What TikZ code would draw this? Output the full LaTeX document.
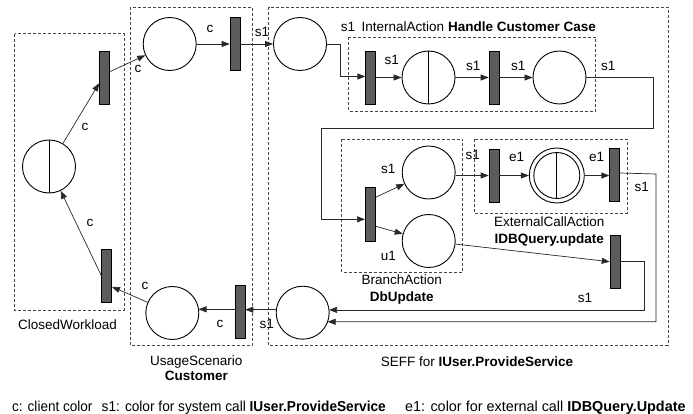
\documentclass[tikz,border=0pt]{standalone}
\usepackage{fontspec}
\setmainfont{Liberation Sans}
\usetikzlibrary{arrows.meta,calc}
\definecolor{trfill}{RGB}{92,92,92}
\definecolor{boxline}{RGB}{70,70,70}
\definecolor{wire}{RGB}{40,40,40}

\begin{document}
\begin{tikzpicture}[x=1pt,y=-1pt,
  every node/.style={font=\fontsize{13.5}{15}\selectfont},
  place/.style={circle,draw,line width=0.9pt,minimum size=53pt,inner sep=0pt},
  trans/.style={rectangle,draw,line width=0.6pt,fill=trfill,minimum width=10pt,minimum height=53pt,inner sep=0pt},
  region/.style={draw=boxline,dash pattern=on 3pt off 2pt,line width=0.7pt},
  arc/.style={draw=wire,-{Triangle[length=8pt,width=6pt]},line width=0.7pt},
  lbl/.style={anchor=base,inner sep=0pt},
  lblw/.style={anchor=base west,inner sep=0pt},
  legend/.style={anchor=base west,inner sep=0pt,font=\fontsize{14.4}{16}\selectfont},
]
\useasboundingbox (0,0) rectangle (693,414);

% regions
\draw[region] (14.7,33.7) rectangle (124,310);
\draw[region] (130,7.3) rectangle (252,345.7);
\draw[region] (268.7,7.3) rectangle (668,345.7);
\draw[region] (348.3,37.3) rectangle (595.7,111);
\draw[region] (341.7,139.3) rectangle (462.7,272.3);
\draw[region] (474.3,139.3) rectangle (627.3,213.3);

% closed workload
\node[place] (fork) at (49,166.5) {};
\draw[line width=0.9pt] (fork.north) -- (fork.south);
\node[trans] (ctop) at (104.5,77.7) {};
\node[trans] (cbot) at (106.7,275.8) {};

% usage scenario
\node[place] (up1) at (169.7,44) {};
\node[trans] (ut1) at (235,44) {};
\node[place] (ubot) at (172.3,313) {};
\node[trans] (ut2) at (240,312) {};

% SEFF
\node[place] (sp0) at (300,44) {};
\node[trans] (it1) at (370.7,77.5) {};
\node[place] (ip1) at (428.5,77.5) {};
\draw[line width=0.9pt] (ip1.north) -- (ip1.south);
\node[trans] (it2) at (494,77.5) {};
\node[place] (ip2) at (559.5,77.5) {};

\node[trans] (bt) at (370.3,214.3) {};
\node[place] (bp1) at (428.7,172.5) {};
\node[place] (bp2) at (428.7,241) {};

\node[trans] (et1) at (494,175.5) {};
\node[place,minimum size=55pt] (ep) at (556.8,175.5) {};
\node[place,minimum size=46pt] (epi) at (ep) {};
\draw[line width=0.9pt] (epi.north) -- (epi.south);
\node[trans] (et2) at (614.7,174.5) {};

\node[trans] (mt) at (615,261.7) {};
\node[place] (sp9) at (302.7,312.7) {};

% helper points of the wires
\coordinate (w1) at (653.3,128.3);
\coordinate (w2) at (321.7,128.3);
\coordinate (w3) at (656,174);
\coordinate (w4) at (644,261.7);
\coordinate (sp9a) at ($(sp9)+(-6:26.5)$);
\coordinate (sp9b) at ($(sp9)+(20:26.5)$);
\coordinate (sp9w) at ($(sp9)+(186.5:26.5)$);
\coordinate (ube) at ($(ubot)+(-8:26.5)$);

% connectors
\draw[arc] (fork) -- ($(ctop.west)+(0,5.5)$);
\draw[arc] ($(ctop.east)+(0,-6)$) -- (up1);
\draw[arc] (up1.east) -- (ut1.west);
\draw[arc] (ut1.east) -- (sp0.west);
\draw[arc] (sp0.east) -- ++(13.5,0) |- ($(it1.west)+(0,-1)$);
\draw[arc] (it1.east) -- (ip1.west);
\draw[arc] (ip1.east) -- (it2.west);
\draw[arc] (it2.east) -- (ip2.west);
\draw[arc] (ip2.east) -| (w1) -- (w2) |- ($(bt.west)+(0,5)$);
\draw[arc] ($(bt.east)+(0,-17)$) -- (bp1);
\draw[arc] ($(bt.east)+(0,12)$) -- (bp2);
\draw[arc] ($(bp1.east)+(0,3)$) -- (et1.west);
\draw[arc] (et1.east) -- (ep.west);
\draw[arc] (ep.east) -- ($(et2.west)+(0,1)$);
\draw[arc] (bp2) -- (mt.west);
\draw[arc] ($(et2.east)+(0,-1.5)$) -- (w3) -- (w3 |- sp9b) -- (sp9b);
\draw[arc] (mt.east) -- (w4) -- (w4 |- sp9a) -- (sp9a);
\draw[arc] (sp9w) -- (sp9w -| ut2.east);
\draw[arc] (ube -| ut2.west) -- (ube);
\draw[arc] (ubot) -- ($(cbot.east)+(0,11)$);
\draw[arc] (cbot.west) -- (fork);

% arc labels
\node[lbl] (lc1) at (210,32.5) {c};
\node[lbl] (lc2) at (138,72.5) {c};
\node[lbl] (lc3) at (85,130.5) {c};
\node[lbl] (lc4) at (90,226) {c};
\node[lbl] (lc5) at (145,289.5) {c};
\node[lbl] (lc6) at (220,327) {c};
\node[lbl] (ls1) at (262,37) {s1};
\node[lbl] (ls2) at (348,31.7) {s1};
\node[lbl] (ls3) at (391.7,64.3) {s1};
\node[lbl] (ls4) at (473.3,70.5) {s1};
\node[lbl] (ls5) at (518.3,70.5) {s1};
\node[lbl] (ls6) at (608.3,70.5) {s1};
\node[lbl] (ls7) at (388.3,173.3) {s1};
\node[lbl] (lu1) at (388.3,260) {u1};
\node[lbl] (ls8) at (472.7,159.3) {s1};
\node[lbl] (le1) at (516.7,161.5) {e1};
\node[lbl] (le2) at (596.7,161.5) {e1};
\node[lbl] (ls9) at (641.7,191.5) {s1};
\node[lbl] (ls10) at (585,302.5) {s1};
\node[lbl] (ls11) at (266.7,328) {s1};

% region titles
\node[lblw] (tint) at (361.5,31.7) {InternalAction \textbf{Handle Customer Case}};
\node[lbl] (tcw) at (67.5,329.3) {ClosedWorkload};
\node[lbl] (tus) at (196.3,365) {UsageScenario};
\node[lbl] (tus2) at (196.3,380) {\textbf{Customer}};
\node[lbl] (tba) at (401.7,284.3) {BranchAction};
\node[lbl] (tba2) at (401.7,301) {\textbf{DbUpdate}};
\node[lbl] (tec) at (549.3,226.4) {ExternalCallAction};
\node[lbl] (tec2) at (549.3,243) {\textbf{IDBQuery.update}};
\node[lbl] (tse) at (477,366.5) {SEFF for \textbf{IUser.ProvideService}};

% legend
\node[legend,xscale=0.94,transform shape] (leg1) at (12,411) {c: client color};
\node[legend,xscale=0.95,transform shape] (leg2) at (101.5,411) {s1: color for system call \textbf{IUser.ProvideService}};
\node[legend] (leg3) at (405,411) {e1: color for external call \textbf{IDBQuery.Update}};
\end{tikzpicture}
\end{document}
